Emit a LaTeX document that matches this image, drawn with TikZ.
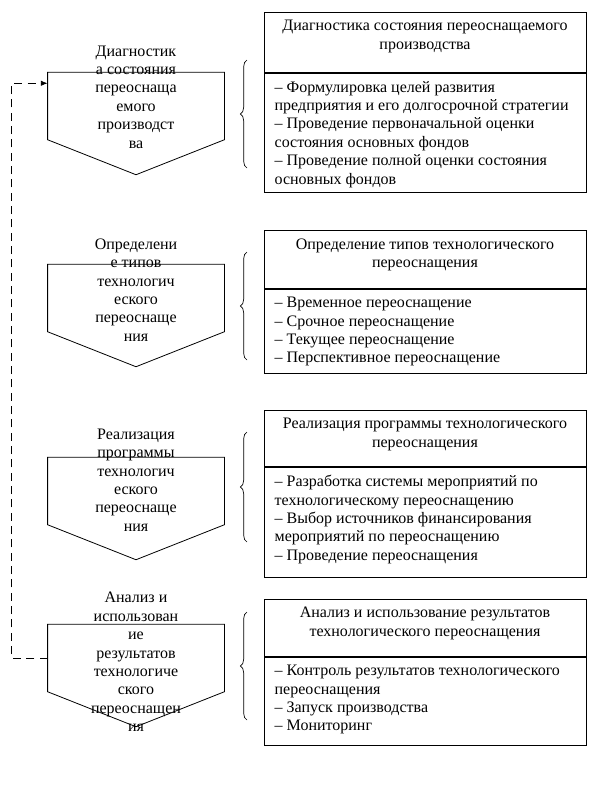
\documentclass[tikz,border=0pt]{standalone}
\usepackage{fontspec}
\setmainfont{Liberation Serif}
\usetikzlibrary{arrows.meta,calc,decorations.pathreplacing}

\newcommand{\titlebox}[2]{\parbox[c][#1][t]{241.5pt}{\vspace*{6pt}\centering #2}}
\newcommand{\itemsbox}[2]{\parbox[c][#1][t]{241.5pt}{\vspace*{6pt}\raggedright\leftskip=8pt #2}}

\begin{document}
\begin{tikzpicture}[x=0.75pt,y=-0.75pt,line width=0.6pt]
  \tikzset{
    stagebody/.style={minimum width=132pt,minimum height=50pt,inner sep=0pt},
    stagetext/.style={align=center,inner sep=0pt,font=\fontsize{12}{13.8}\selectfont},
    boxpart/.style={draw,inner sep=0pt,anchor=north,font=\fontsize{12}{13.8}\selectfont},
    loopback/.style={dash pattern=on 6pt off 4pt,-{Latex[length=5pt,width=4pt]}},
    bracket/.style={decorate,decoration={brace,amplitude=5pt},line width=0.5pt}
  }
  \useasboundingbox (0,0) rectangle (609,801);

  % stages on the left
  \node[stagebody] (p1) at (136,106) {};
  \node[stagebody] (p2) at (136,298) {};
  \node[stagebody] (p3) at (136,491) {};
  \node[stagebody] (p4) at (136,658) {};
  \foreach \p in {p1,p2,p3,p4}
    \draw (\p.north west) -- (\p.north east) -- (\p.south east)
      -- ($(\p.south)+(0,35)$) -- (\p.south west) -- cycle;

  \node[stagetext] (t1) at (136,97)  {Диагностик\\а состояния\\переоснаща\\емого\\производст\\ва};
  \node[stagetext] (t2) at (136,290) {Определени\\е типов\\технологич\\еского\\переоснаще\\ния};
  \node[stagetext] (t3) at (136,480) {Реализация\\программы\\технологич\\еского\\переоснаще\\ния};
  \node[stagetext] (t4) at (136,662) {Анализ и\\использован\\ие\\результатов\\технологиче\\ского\\переоснащен\\ия};

  % boxes on the right
  \node[boxpart] (h1) at (425,12) {\titlebox{45pt}{Диагностика состояния переоснащаемого\\производства}};
  \node[boxpart] (l1) at (h1.south) {\itemsbox{89.25pt}{– Формулировка целей развития\\предприятия и  его долгосрочной стратегии\\– Проведение первоначальной оценки\\состояния основных фондов\\– Проведение полной оценки состояния\\основных фондов}};

  \node[boxpart] (h2) at (425,230) {\titlebox{43.5pt}{Определение типов технологического\\переоснащения}};
  \node[boxpart] (l2) at (h2.south) {\itemsbox{63pt}{– Временное переоснащение\\– Срочное переоснащение\\– Текущее переоснащение\\– Перспективное переоснащение}};

  \node[boxpart] (h3) at (425,410) {\titlebox{42pt}{Реализация программы технологического\\переоснащения}};
  \node[boxpart] (l3) at (h3.south) {\itemsbox{82.5pt}{– Разработка системы мероприятий по\\технологическому переоснащению\\– Выбор источников финансирования\\мероприятий по переоснащению\\– Проведение переоснащения}};

  \node[boxpart] (h4) at (425,599) {\titlebox{42.75pt}{Анализ и использование результатов\\технологического переоснащения}};
  \node[boxpart] (l4) at (h4.south) {\itemsbox{66pt}{– Контроль результатов технологического\\переоснащения\\– Запуск производства\\– Мониторинг}};

  % braces
  \foreach \a/\b in {60/168,252/360,432/542,612/720}
    \draw[bracket] (247,\b) -- (247,\a);

  % loop back
  \coordinate (in1) at ($(p1.north west)+(0,11)$);
  \draw[loopback] (p4.west) -- ++(-36,0) |- (in1);
\end{tikzpicture}
\end{document}
